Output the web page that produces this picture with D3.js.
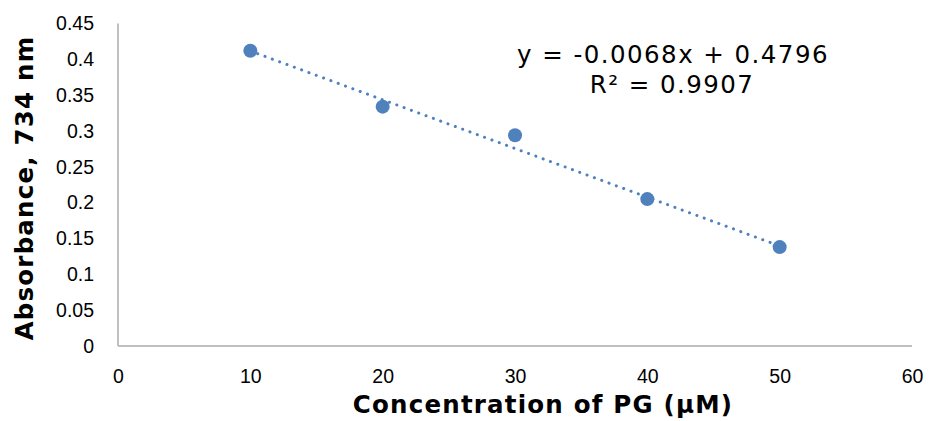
<!DOCTYPE html>
<html><head><meta charset="utf-8">
<script src="https://cdn.jsdelivr.net/npm/d3@7"></script>
<style>body{margin:0;background:#fff;} svg{display:block;}</style>
</head><body>
<svg id="c" width="929" height="421"></svg>
<script>
const concentrations = [10, 20, 30, 40, 50];
const absorbance = [0.412, 0.334, 0.294, 0.205, 0.138];
const xTicks = [0, 10, 20, 30, 40, 50, 60];
const yTicks = [0, 0.05, 0.1, 0.15, 0.2, 0.25, 0.3, 0.35, 0.4, 0.45];
const slope = -0.0068, intercept = 0.4796;
const eqText = "y = -0.0068x + 0.4796";
const r2Text = "R² = 0.9907";
const xTitle = "Concentration of PG (µM)";
const yTitle = "Absorbance, 734 nm";

const svg = d3.select("#c");
const x = d3.scaleLinear().domain([0, 60]).range([118, 912]);
const y = d3.scaleLinear().domain([0, 0.45]).range([346, 23.5]);
const tickFont = "'Liberation Sans', Arial, sans-serif";
const axisColor = "#bfbfbf";
const blue = "#4f81bd";

const xAxis = svg.append("g").attr("transform", `translate(0,${y(0)})`)
  .call(d3.axisBottom(x).tickValues(xTicks).tickSize(0).tickPadding(23).tickFormat(d3.format("")));
const yAxis = svg.append("g").attr("transform", `translate(${x(0)},0)`)
  .call(d3.axisLeft(y).tickValues(yTicks).tickSize(0).tickPadding(24).tickFormat(d => String(d)));
[xAxis, yAxis].forEach(g => {
  g.select(".domain").attr("stroke", axisColor).attr("stroke-width", 2);
  g.selectAll("text").attr("font-family", tickFont).attr("font-size", 19.5).attr("fill", "#000");
});
yAxis.select(".domain").attr("d", `M0,${y(0)}V${y(0.45)}`);
xAxis.select(".domain").attr("d", `M${x(0)},0H${x(60)}`);

// trendline
svg.append("line")
  .attr("x1", x(concentrations[0])).attr("y1", y(slope * concentrations[0] + intercept))
  .attr("x2", x(concentrations[4])).attr("y2", y(slope * concentrations[4] + intercept))
  .attr("stroke", blue).attr("stroke-width", 3).attr("stroke-linecap", "round")
  .attr("stroke-dasharray", "0.1 7.7");

svg.selectAll("circle.pt").data(concentrations).enter().append("circle")
  .attr("class", "pt")
  .attr("cx", d => x(d)).attr("cy", (d, i) => y(absorbance[i]))
  .attr("r", 7).attr("fill", blue);

const eqFont = "'DejaVu Sans', Verdana, sans-serif";
svg.append("text").attr("x", 673).attr("y", 63).attr("text-anchor", "middle")
  .attr("font-family", eqFont).attr("font-size", 24.5).attr("letter-spacing", 1.45).text(eqText);
svg.append("text").attr("x", 672).attr("y", 93).attr("text-anchor", "middle")
  .attr("font-family", eqFont).attr("font-size", 24.5).attr("letter-spacing", 1.45).text(r2Text);

svg.append("text").attr("x", 543).attr("y", 413).attr("text-anchor", "middle")
  .attr("font-family", eqFont).attr("font-weight", "bold").attr("font-size", 24.5).attr("letter-spacing", 1.2).text(xTitle);
svg.append("text").attr("transform", "translate(33,188) rotate(-90)").attr("text-anchor", "middle")
  .attr("font-family", eqFont).attr("font-weight", "bold").attr("font-size", 24.5).attr("letter-spacing", 1.2).text(yTitle);
</script>
</body></html>
